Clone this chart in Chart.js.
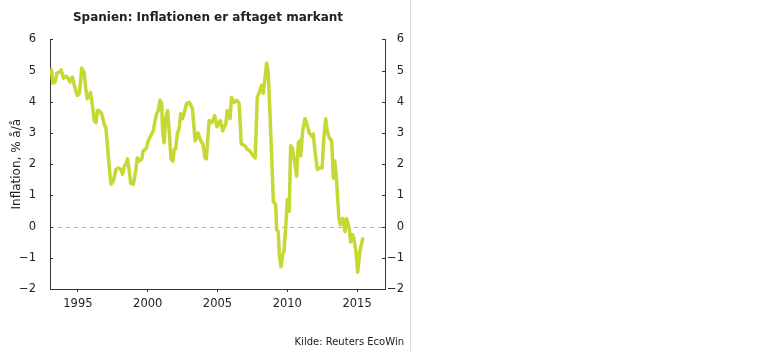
<!DOCTYPE html>
<html>
<head>
<meta charset="utf-8">
<script src="https://cdn.jsdelivr.net/npm/chart.js@4"></script>
<style>
  html, body { margin: 0; padding: 0; background: #fff; }
  #wrap { position: absolute; left: 0; top: 0; width: 416px; height: 351px; }
  #divider { position: absolute; left: 410px; top: 0; width: 1px; height: 351px; background: #dcdcdc; }
</style>
</head>
<body>
<div id="wrap"><canvas id="c"></canvas></div>
<div id="divider"></div>
<script>
const chartTitle = "Spanien: Inflationen er aftaget markant";
const yAxisTitle = "Inflation, % å/å";
const sourceText = "Kilde: Reuters EcoWin";
const xTicks = [1995, 2000, 2005, 2010, 2015];
const yMin = -2, yMax = 6;

const dates = [
  1993.0, 1993.1, 1993.2, 1993.36, 1993.5, 1993.67, 1993.8, 1993.96,
  1994.15, 1994.3, 1994.43, 1994.6, 1994.8, 1994.96,
  1995.1, 1995.2, 1995.27, 1995.44, 1995.56, 1995.67, 1995.8, 1995.9,
  1996.06, 1996.17, 1996.3, 1996.4, 1996.5, 1996.7, 1996.87,
  1997.0, 1997.13, 1997.25, 1997.37, 1997.54, 1997.73, 1997.9,
  1998.06, 1998.2, 1998.33, 1998.44, 1998.56, 1998.68, 1998.78, 1998.97,
  1999.14, 1999.25, 1999.4, 1999.57, 1999.68, 1999.88,
  2000.04, 2000.28, 2000.4, 2000.5, 2000.64, 2000.76, 2000.88,
  2001.0, 2001.07, 2001.17, 2001.3, 2001.43, 2001.55, 2001.67, 2001.8, 2001.9,
  2002.0, 2002.12, 2002.26, 2002.36, 2002.5, 2002.6, 2002.79, 2002.98,
  2003.2, 2003.4, 2003.6, 2003.8, 2003.96,
  2004.1, 2004.2, 2004.4, 2004.6, 2004.8, 2004.96,
  2005.2, 2005.37, 2005.6, 2005.7, 2005.9,
  2006.0, 2006.2, 2006.4, 2006.55, 2006.7, 2006.97,
  2007.1, 2007.3, 2007.56, 2007.7, 2007.85,
  2008.04, 2008.16, 2008.28, 2008.52, 2008.64, 2008.76, 2008.9,
  2009.0, 2009.17, 2009.24, 2009.35, 2009.43, 2009.55, 2009.67, 2009.76, 2009.9,
  2010.0, 2010.14, 2010.24, 2010.38, 2010.55, 2010.67, 2010.79, 2010.9, 2010.96,
  2011.1, 2011.27, 2011.4, 2011.57, 2011.75, 2011.86, 2011.98,
  2012.15, 2012.3, 2012.5, 2012.6, 2012.75, 2012.86,
  2013.0, 2013.18, 2013.3, 2013.4, 2013.5, 2013.7, 2013.8, 2013.97,
  2014.13, 2014.25, 2014.44, 2014.54, 2014.68, 2014.78, 2014.92,
  2015.04, 2015.2, 2015.4
];

const inflation = [
  4.95, 5.02, 4.6, 4.63, 4.92, 4.95, 5.02, 4.76,
  4.82, 4.76, 4.63, 4.79, 4.43, 4.2,
  4.27, 4.69, 5.08, 4.95, 4.43, 4.1, 4.2, 4.3,
  3.82, 3.4, 3.33, 3.72, 3.72, 3.62, 3.3,
  3.17, 2.52, 1.88, 1.36, 1.46, 1.84, 1.88,
  1.84, 1.68, 1.94, 2.0, 2.17, 1.78, 1.39, 1.36,
  1.78, 2.2, 2.1, 2.17, 2.43, 2.49,
  2.75, 2.97, 3.07, 3.33, 3.62, 3.72, 4.05,
  3.95, 3.07, 2.69, 3.5, 3.72, 2.97, 2.17, 2.1, 2.49,
  2.49, 2.97, 3.17, 3.62, 3.46, 3.62, 3.95, 3.98,
  3.79, 2.75, 3.0, 2.75, 2.65,
  2.2, 2.17, 3.4, 3.33, 3.56, 3.2,
  3.4, 3.07, 3.3, 3.72, 3.46,
  4.14, 3.98, 4.05, 3.95, 2.65, 2.59,
  2.49, 2.43, 2.27, 2.2, 4.14,
  4.37, 4.53, 4.27, 5.24, 4.92, 3.62, 2.0,
  0.8, 0.7, -0.1, -0.16, -0.9, -1.29, -0.9, -0.8, 0.06,
  0.87, 0.49, 2.59, 2.49, 2.0, 1.62, 2.69, 2.75, 2.27,
  3.07, 3.46, 3.3, 3.0, 2.9, 2.97, 2.43,
  1.84, 1.88, 1.88, 2.75, 3.46, 3.07,
  2.85, 2.75, 1.55, 2.1, 1.68, 0.26, 0.06, 0.26,
  -0.16, 0.26, -0.06, -0.49, -0.26, -0.42, -0.8,
  -1.46, -0.8, -0.39
];

const points = dates.map((d, i) => ({ x: d, y: inflation[i] }));
const FONT = "'DejaVu Sans', Verdana, sans-serif";
const AXIS_COLOR = '#333333';
const TEXT_COLOR = '#222222';

const extrasPlugin = {
  id: 'extras',
  afterLayout(chart) {
    const t = chart.titleBlock;
    if (t) { t.left += 6; t.right += 6; }
  },
  beforeDatasetsDraw(chart) {
    const ctx = chart.ctx;
    const y = chart.scales.y;
    const area = chart.chartArea;
    ctx.save();
    const y0 = Math.round(y.getPixelForValue(0)) + 0.5;
    ctx.strokeStyle = '#b3b3b3';
    ctx.lineWidth = 1;
    ctx.setLineDash([4, 4]);
    ctx.beginPath();
    ctx.moveTo(area.left, y0);
    ctx.lineTo(area.right, y0);
    ctx.stroke();
    ctx.setLineDash([]);
    ctx.strokeStyle = AXIS_COLOR;
    y.ticks.forEach(t => {
      const py = Math.round(y.getPixelForValue(t.value)) + 0.5;
      ctx.beginPath();
      ctx.moveTo(area.left, py); ctx.lineTo(area.left + 3, py);
      ctx.moveTo(area.right, py); ctx.lineTo(area.right - 3, py);
      ctx.stroke();
    });
    ctx.restore();
  }
};

new Chart(document.getElementById('c'), {
  type: 'line',
  data: {
    datasets: [{
      data: points,
      borderColor: '#c6d932',
      borderWidth: 3.5,
      pointRadius: 0,
      tension: 0,
      fill: false,
      borderJoinStyle: 'round',
      borderCapStyle: 'round'
    }]
  },
  options: {
    responsive: true,
    maintainAspectRatio: false,
    animation: false,
    layout: { padding: { left: 0, right: 12, top: 0, bottom: 0 } },
    plugins: {
      legend: { display: false },
      tooltip: { enabled: false },
      title: {
        display: true,
        text: chartTitle,
        color: TEXT_COLOR,
        font: { family: FONT, size: 12, weight: 'bold' },
        padding: { top: 11, bottom: 14 }
      },
      subtitle: {
        display: true,
        text: sourceText,
        position: 'bottom',
        align: 'end',
        color: TEXT_COLOR,
        font: { family: FONT, size: 10 },
        padding: { top: 17, bottom: 3 }
      }
    },
    scales: {
      x: {
        type: 'linear',
        min: 1993,
        max: 2017,
        afterBuildTicks: s => { s.ticks = xTicks.map(v => ({ value: v })); },
        afterFit: s => { s.height = 30; },
        grid: { display: true, drawOnChartArea: false, drawTicks: true, tickLength: 3, color: AXIS_COLOR },
        border: { display: true, color: AXIS_COLOR, width: 1 },
        ticks: {
          color: TEXT_COLOR,
          font: { family: FONT, size: 11.5 },
          padding: 5,
          maxRotation: 0,
          callback: v => String(v)
        }
      },
      y: {
        position: 'left',
        min: yMin,
        max: yMax,
        afterFit: s => { s.width = 50; },
        grid: { display: false },
        border: { display: true, color: AXIS_COLOR, width: 1 },
        title: {
          display: true,
          text: yAxisTitle,
          color: TEXT_COLOR,
          font: { family: FONT, size: 12 },
          padding: { top: 10, bottom: 0 }
        },
        ticks: {
          stepSize: 1,
          color: TEXT_COLOR,
          font: { family: FONT, size: 11.5 },
          padding: 6,
          callback: v => (v < 0 ? '\u2212' + Math.abs(v) : String(v))
        }
      },
      y2: {
        position: 'right',
        min: yMin,
        max: yMax,
        afterFit: s => { s.width = 19; },
        grid: { display: false },
        border: { display: true, color: AXIS_COLOR, width: 1 },
        ticks: {
          stepSize: 1,
          crossAlign: 'far',
          color: TEXT_COLOR,
          font: { family: FONT, size: 11.5 },
          padding: 6,
          callback: v => (v < 0 ? '\u2212' + Math.abs(v) : String(v))
        }
      }
    }
  },
  plugins: [extrasPlugin]
});
</script>
</body>
</html>
